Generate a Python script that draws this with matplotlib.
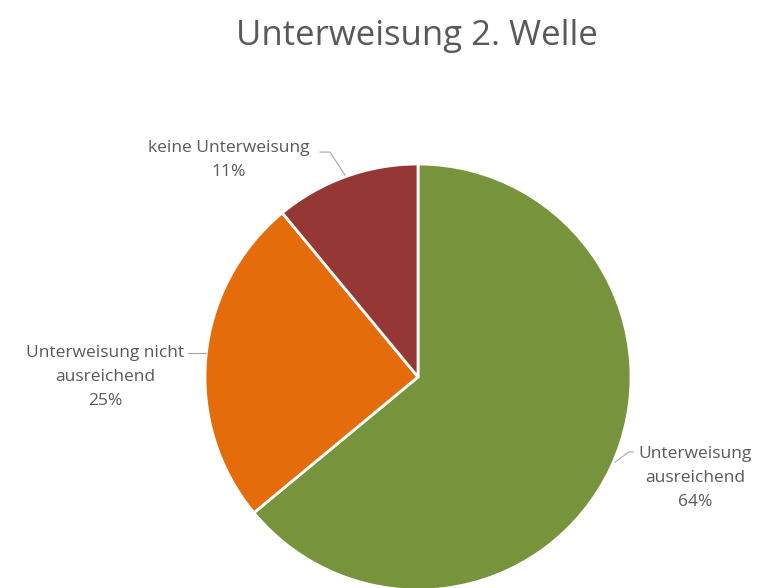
import matplotlib.pyplot as plt

labels = ["Unterweisung\nausreichend", "Unterweisung nicht\nausreichend", "keine Unterweisung"]
shares = [64, 25, 11]
colors = ["#77933C", "#E46C0A", "#953735"]

# label anchor (text centre) and leader line points, in pie data units
label_pos = [(1.30, -0.475), (-1.47, 0.0), (-0.89, 1.02)]
leader = [
    [(0.925, -0.40), (0.99, -0.352), (1.01, -0.352)],
    [(-0.995, 0.113), (-1.08, 0.113)],
    [(-0.343, 0.948), (-0.413, 1.056), (-0.46, 1.056)],
]

TXT = "#595959"


def main():
    plt.rcParams["font.family"] = ["Open Sans", "DejaVu Sans"]
    fig = plt.figure(figsize=(7.63, 5.88), dpi=100)
    fig.text(417 / 763, 0.938, "Unterweisung 2. Welle", ha="center", va="center",
             fontsize=25, color=TXT)

    ax = fig.add_axes([205 / 763, -2 / 588, 426 / 763, 426 / 588])
    ax.pie(shares, colors=colors, startangle=90, counterclock=False,
           wedgeprops=dict(edgecolor="white", linewidth=2))
    ax.set_xlim(-1, 1)
    ax.set_ylim(-1, 1)
    ax.set_aspect("equal")
    ax.axis("off")

    for name, val, (x, y), pts in zip(labels, shares, label_pos, leader):
        ax.text(x, y, f"{name}\n{val}%", ha="center", va="center",
                fontsize=12.5, color=TXT, linespacing=1.65, clip_on=False)
        xs, ys = zip(*pts)
        ax.plot(xs, ys, color="#A6A6A6", lw=0.8, clip_on=False)

    fig.savefig("out.png", dpi=100)


if __name__ == "__main__":
    main()
